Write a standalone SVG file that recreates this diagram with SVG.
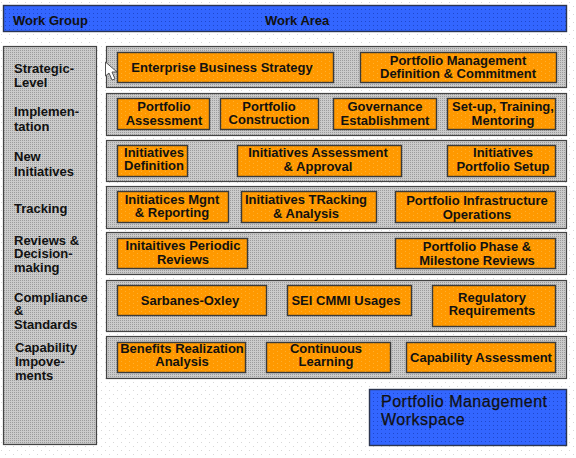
<svg xmlns="http://www.w3.org/2000/svg" width="576" height="458" viewBox="0 0 576 458">
<defs>
<pattern id="bgDots" width="8" height="8" patternUnits="userSpaceOnUse"><rect width="8" height="8" fill="#fff"/><rect x="1" y="2" width="1" height="1" fill="#d8d8d8"/><rect x="5" y="6" width="1" height="1" fill="#d8d8d8"/></pattern>
<pattern id="grayDots" width="2" height="2" patternUnits="userSpaceOnUse"><rect width="2" height="2" fill="#cbcbcb"/><rect width="1" height="1" fill="#9c9c9c"/></pattern>
<pattern id="orangeDots" width="8" height="4" patternUnits="userSpaceOnUse"><rect width="8" height="4" fill="#ff9900"/><rect x="1" y="1" width="1" height="1" fill="#ffb030"/><rect x="5" y="3" width="1" height="1" fill="#ffb030"/></pattern>
<pattern id="blueDots" width="4" height="4" patternUnits="userSpaceOnUse"><rect width="4" height="4" fill="#3366ff"/><rect x="1" y="1" width="1" height="1" fill="#1f48cc"/></pattern>
</defs>
<style>
text{font-family:"Liberation Sans",Arial,sans-serif;font-weight:bold;font-size:13px;fill:#111}
.m{text-anchor:middle}
.band{fill:url(#grayDots);stroke:#444;stroke-width:1.2}
.box{fill:url(#orangeDots);stroke:#3a3a3a;stroke-width:1.4}
.blue{fill:url(#blueDots);stroke:#2b3550;stroke-width:1.4}
.ws{font-weight:normal;font-size:16px;letter-spacing:.5px;stroke:#111;stroke-width:.25}
</style>
<rect width="576" height="458" fill="url(#bgDots)"/>
<g id="header"><rect class="blue" x="3.5" y="5.5" width="563" height="26"/><text x="13" y="25">Work Group</text><text x="265" y="25">Work Area</text></g>
<g id="work-groups"><rect class="band" x="3.5" y="46.5" width="93" height="398"/>
<text x="14" y="73">Strategic-</text><text x="14" y="87">Level</text>
<text x="14" y="116">Implemen-</text><text x="14" y="131">tation</text>
<text x="14" y="161">New</text><text x="14" y="176">Initiatives</text>
<text x="14" y="213">Tracking</text>
<text x="14" y="245">Reviews &amp;</text><text x="14" y="258">Decision-</text><text x="14" y="272">making</text>
<text x="14" y="302">Compliance</text><text x="14" y="315">&amp;</text><text x="14" y="329">Standards</text>
<text x="15" y="352">Capability</text><text x="15" y="366">Impove-</text><text x="15" y="380">ments</text></g>
<g id="bands">
<rect class="band" x="106.5" y="46.5" width="460" height="41"/>
<rect class="band" x="106.5" y="93.5" width="460" height="42"/>
<rect class="band" x="106.5" y="140.5" width="460" height="41"/>
<rect class="band" x="106.5" y="186.5" width="460" height="42"/>
<rect class="band" x="106.5" y="232.5" width="460" height="42"/>
<rect class="band" x="106.5" y="280.5" width="460" height="51"/>
<rect class="band" x="106.5" y="336.5" width="460" height="42"/>
</g>
<g id="n1"><rect class="box" x="117.5" y="52.5" width="216" height="30"/><text class="m" x="222" y="72">Enterprise Business Strategy</text></g>
<g id="n2"><rect class="box" x="360.5" y="52.5" width="196" height="30"/><text class="m" x="458" y="65">Portfolio Management</text><text class="m" x="458" y="78">Definition &amp; Commitment</text></g>
<g id="n3"><rect class="box" x="117.5" y="98.5" width="92" height="31"/><text class="m" x="164" y="111">Portfolio</text><text class="m" x="164" y="125">Assessment</text></g>
<g id="n4"><rect class="box" x="220.5" y="98.5" width="98" height="31"/><text class="m" x="269" y="111">Portfolio</text><text class="m" x="269" y="124">Construction</text></g>
<g id="n5"><rect class="box" x="333.5" y="98.5" width="103" height="31"/><text class="m" x="385" y="111">Governance</text><text class="m" x="385" y="125">Establishment</text></g>
<g id="n6"><rect class="box" x="447.5" y="98.5" width="108" height="31"/><text class="m" x="503" y="111">Set-up, Training,</text><text class="m" x="503" y="125">Mentoring</text></g>
<g id="n7"><rect class="box" x="117.5" y="145.5" width="70" height="31"/><text class="m" x="154" y="157">Initiatives</text><text class="m" x="154" y="170">Definition</text></g>
<g id="n8"><rect class="box" x="237.5" y="145.5" width="164" height="31"/><text class="m" x="318" y="157">Initiatives Assessment</text><text class="m" x="318" y="171">&amp; Approval</text></g>
<g id="n9"><rect class="box" x="447.5" y="145.5" width="108" height="31"/><text class="m" x="503" y="157">Initiatives</text><text class="m" x="503" y="171">Portfolio Setup</text></g>
<g id="n10"><rect class="box" x="117.5" y="191.5" width="111" height="31"/><text class="m" x="172" y="204">Initiatices Mgnt</text><text class="m" x="172" y="217">&amp; Reporting</text></g>
<g id="n11"><rect class="box" x="241.5" y="191.5" width="135" height="31"/><text class="m" x="306" y="204">Initiatives TRacking</text><text class="m" x="306" y="218">&amp; Analysis</text></g>
<g id="n12"><rect class="box" x="395.5" y="191.5" width="160" height="31"/><text class="m" x="477" y="205">Portfolio Infrastructure</text><text class="m" x="477" y="219">Operations</text></g>
<g id="n13"><rect class="box" x="117.5" y="238.5" width="130" height="30"/><text class="m" x="183" y="250">Initaitives Periodic</text><text class="m" x="183" y="264">Reviews</text></g>
<g id="n14"><rect class="box" x="395.5" y="238.5" width="160" height="30"/><text class="m" x="477" y="251">Portfolio Phase &amp;</text><text class="m" x="477" y="265">Milestone Reviews</text></g>
<g id="n15"><rect class="box" x="117.5" y="285.5" width="149" height="30"/><text class="m" x="190" y="305">Sarbanes-Oxley</text></g>
<g id="n16"><rect class="box" x="287.5" y="285.5" width="124" height="30"/><text class="m" x="346" y="305">SEI CMMI Usages</text></g>
<g id="n17"><rect class="box" x="432.5" y="285.5" width="123" height="41"/><text class="m" x="492" y="302">Regulatory</text><text class="m" x="492" y="315">Requirements</text></g>
<g id="n18"><rect class="box" x="117.5" y="342.5" width="128" height="30"/><text class="m" x="182" y="353">Benefits Realization</text><text class="m" x="182" y="366">Analysis</text></g>
<g id="n19"><rect class="box" x="266.5" y="342.5" width="124" height="30"/><text class="m" x="326" y="353">Continuous</text><text class="m" x="326" y="366">Learning</text></g>
<g id="n20"><rect class="box" x="406.5" y="342.5" width="149" height="30"/><text class="m" x="481" y="362">Capability Assessment</text></g>
<g id="workspace"><rect class="blue" x="369.5" y="389.5" width="197" height="56"/><text class="ws" x="381" y="407">Portfolio Management</text><text class="ws" x="381" y="425">Workspace</text></g>
<g id="connectors"/>
<path id="cursor" d="M105.5 62V76L109 73L112 80L115 79L112 72L117 72Z" fill="#fff" stroke="#555" stroke-width="1"/>
</svg>
